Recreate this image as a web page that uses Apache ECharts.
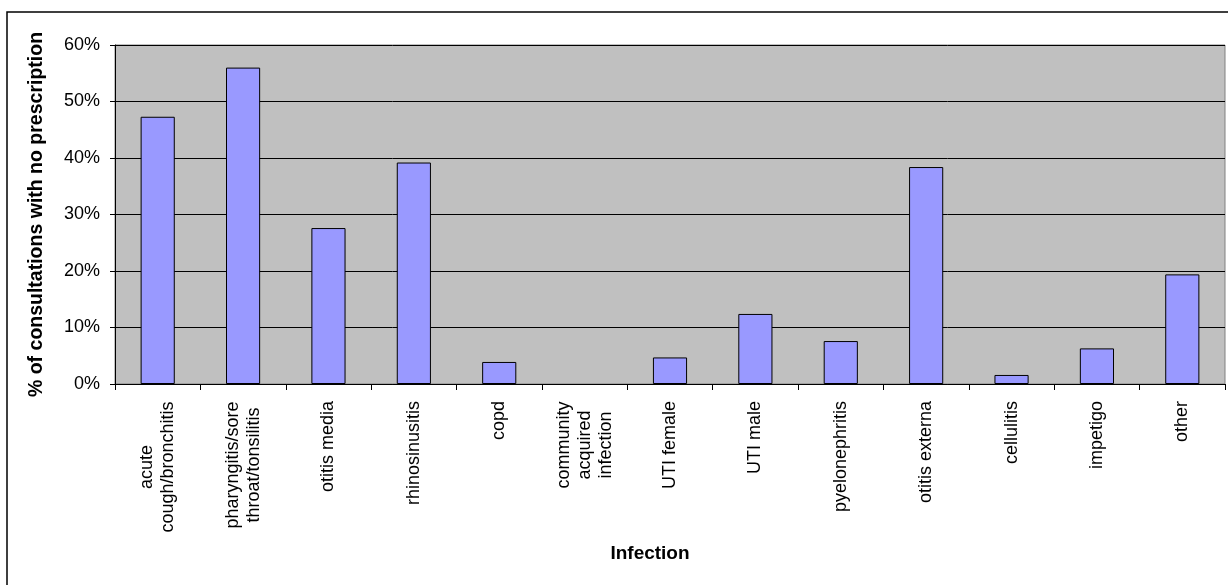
<!DOCTYPE html>
<html>
<head>
<meta charset="utf-8">
<script src="https://cdn.jsdelivr.net/npm/echarts@6/dist/echarts.min.js"></script>
<style>
html,body{margin:0;padding:0;background:#fff;}
#c{width:1228px;height:585px;}
</style>
</head>
<body>
<div id="c"></div>
<script>
var categories = [
  'acute\ncough/bronchitis',
  'pharyngitis/sore\nthroat/tonsilitis',
  'otitis media',
  'rhinosinusitis',
  'copd',
  'community\nacquired\ninfection',
  'UTI female',
  'UTI male',
  'pyelonephritis',
  'otitis externa',
  'cellulitis',
  'impetigo',
  'other'
];
var values = [47.3, 56.0, 27.6, 39.2, 3.9, 0, 4.7, 12.4, 7.6, 38.4, 1.6, 6.3, 19.4];
var yTicks = { min: 0, max: 60, interval: 10 };
var yTitle = '% of consultations with no prescription';
var xTitle = 'Infection';

var FONT = '"Liberation Sans", Arial, sans-serif';
var measureCtx = document.createElement('canvas').getContext('2d');
measureCtx.font = '18px ' + FONT;

var chart = echarts.init(document.getElementById('c'), null, { renderer: 'canvas' });
chart.setOption({
  animation: false,
  backgroundColor: '#ffffff',
  graphic: [{
    type: 'rect',
    shape: { x: 7, y: 12, width: 1240, height: 600 },
    style: { fill: 'none', stroke: '#000', lineWidth: 1.5 },
    silent: true, z: 100
  }],
  grid: {
    left: 115, right: 3, top: 45, bottom: 201,
    show: true, backgroundColor: '#C0C0C0', borderColor: '#808080', borderWidth: 1
  },
  xAxis: {
    type: 'category',
    data: categories,
    name: xTitle,
    nameLocation: 'middle',
    nameGap: 160,
    nameTextStyle: { fontFamily: FONT, fontSize: 19, fontWeight: 'bold', color: '#000', padding: [0, 40, 0, 0] },
    axisLine: { show: true, lineStyle: { color: '#000', width: 1 } },
    axisTick: { show: true, length: 6, lineStyle: { color: '#000' } },
    axisLabel: {
      interval: 0,
      rotate: 90,
      margin: 17,
      fontFamily: FONT,
      fontSize: 18,
      color: '#000',
      lineHeight: 21,
      formatter: function (v) {
        if (v.indexOf('\n') < 0) return v;
        var lines = v.split('\n');
        var w = 0;
        lines.forEach(function (s) { w = Math.max(w, measureCtx.measureText(s).width); });
        var key = 'w' + Math.ceil(w);
        return lines.map(function (s) { return '{' + key + '|' + s + '}'; }).join('\n');
      },
      rich: (function () {
        var r = {};
        categories.forEach(function (v) {
          if (v.indexOf('\n') < 0) return;
          var w = 0;
          v.split('\n').forEach(function (s) { w = Math.max(w, measureCtx.measureText(s).width); });
          r['w' + Math.ceil(w)] = { width: Math.ceil(w), align: 'center', fontFamily: FONT, fontSize: 18, lineHeight: 21, color: '#000' };
        });
        return r;
      })()
    },
    splitLine: { show: false }
  },
  yAxis: {
    type: 'value',
    min: yTicks.min, max: yTicks.max, interval: yTicks.interval,
    name: yTitle,
    nameLocation: 'middle',
    nameRotate: 90,
    nameGap: 68,
    nameTextStyle: { fontFamily: FONT, fontSize: 19.5, fontWeight: 'bold', color: '#000' },
    axisLine: { show: true, lineStyle: { color: '#000', width: 1 } },
    axisTick: { show: true, length: 5, lineStyle: { color: '#000' } },
    axisLabel: { formatter: '{value}%', margin: 15, fontFamily: FONT, fontSize: 18, color: '#000' },
    splitLine: { show: true, lineStyle: { color: '#000', width: 1 } }
  },
  series: [{
    type: 'bar',
    data: values.map(function (v) {
      return v === 0 ? { value: v, itemStyle: { borderWidth: 0, opacity: 0 } } : v;
    }),
    barCategoryGap: '60%',
    itemStyle: { color: '#9999FF', borderColor: '#000', borderWidth: 1 }
  }]
});
</script>
</body>
</html>
